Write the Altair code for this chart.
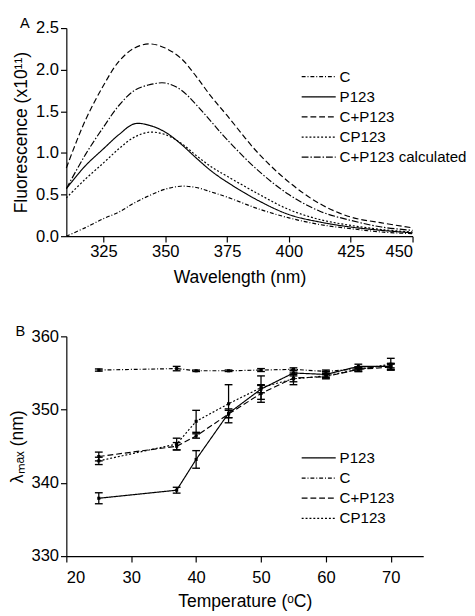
import altair as alt
import pandas as pd

# ---------------- Panel A data (fluorescence spectra, x10^11) ----------------
wavelength = [310, 317.5, 325, 331.25, 337.5, 343.75, 350, 356.25, 362.5, 368.75,
              375, 387.5, 400, 412.5, 425, 437.5, 450]
fl_C = [0.00, 0.10, 0.21, 0.29, 0.40, 0.49, 0.565, 0.60, 0.585, 0.53,
        0.47, 0.33, 0.22, 0.14, 0.09, 0.05, 0.03]
fl_P123 = [0.57, 0.84, 1.05, 1.22, 1.35, 1.33, 1.25, 1.11, 0.94, 0.78,
           0.65, 0.43, 0.26, 0.17, 0.11, 0.07, 0.04]
fl_CplusP123 = [0.82, 1.38, 1.81, 2.10, 2.26, 2.31, 2.26, 2.14, 1.92, 1.67,
                1.45, 1.00, 0.65, 0.39, 0.23, 0.16, 0.10]
fl_CP123 = [0.46, 0.68, 0.88, 1.05, 1.19, 1.25, 1.22, 1.12, 0.97, 0.83,
            0.72, 0.51, 0.32, 0.20, 0.13, 0.08, 0.05]
fl_calc = [0.57, 0.97, 1.31, 1.57, 1.75, 1.82, 1.84, 1.76, 1.58, 1.37,
           1.16, 0.79, 0.50, 0.30, 0.19, 0.11, 0.07]

seriesA = ["C", "P123", "C+P123", "CP123", "C+P123 calculated"]
xticksA = [325, 350, 375, 400, 425, 450]
yticksA = [0.0, 0.5, 1.0, 1.5, 2.0, 2.5]

# ---------------- Panel B data (lambda max vs temperature) ----------------
temps = [25, 37, 40, 45, 50, 55, 60, 65, 70]
lam_P123 = [337.9, 339.0, 343.2, 349.5, 352.8, 355.0, 354.8, 355.9, 355.9]
err_P123 = [0.75, 0.4, 1.2, 0.6, 0.5, 0.4, 0.4, 0.3, 0.4]
lam_C = [355.4, 355.6, 355.3, 355.3, 355.4, 355.5, 355.2, 355.6, 356.0]
err_C = [0.15, 0.3, 0.1, 0.1, 0.2, 0.2, 0.2, 0.2, 0.3]
lam_CplusP123 = [343.6, 345.0, 346.4, 349.4, 352.2, 354.3, 354.5, 355.5, 355.8]
err_CplusP123 = [0.6, 0.5, 0.3, 0.5, 1.2, 0.5, 0.3, 0.3, 0.4]
lam_CP123 = [343.0, 345.3, 348.4, 350.8, 353.0, 354.2, 354.6, 355.5, 356.2]
err_CP123 = [0.5, 0.8, 1.5, 2.6, 1.6, 0.8, 0.3, 0.3, 0.8]

seriesB = ["P123", "C", "C+P123", "CP123"]
xticksB = [20, 30, 40, 50, 60, 70]
yticksB = [330, 340, 350, 360]

# ---------------- tables ----------------
rowsA = []
for name, vals in zip(seriesA, [fl_C, fl_P123, fl_CplusP123, fl_CP123, fl_calc]):
    for w, v in zip(wavelength, vals):
        rowsA.append({"wl": w, "F": v, "series": name})
dfA = pd.DataFrame(rowsA)

rowsB = []
for name, vals, errs in zip(seriesB,
                            [lam_P123, lam_C, lam_CplusP123, lam_CP123],
                            [err_P123, err_C, err_CplusP123, err_CP123]):
    for t, v, e in zip(temps, vals, errs):
        rowsB.append({"T": t, "v": v, "lo": v - e, "hi": v + e, "series": name})
dfB = pd.DataFrame(rowsB)

FONT = "Liberation Sans"
LFS = 17
TFS = 18

dash_map = {
    "C": [4, 2, 1, 2],
    "P123": [1, 0],
    "C+P123": [6, 3],
    "CP123": [2, 2],
    "C+P123 calculated": [7, 2, 1.5, 2],
}


def legend(x, y):
    return alt.Legend(title=None, orient="none", legendX=x, legendY=y,
                      symbolType="stroke", symbolSize=1225, clipHeight=16,
                      symbolStrokeColor="black", symbolStrokeWidth=1.3,
                      labelFont=FONT, labelFontSize=15.5, labelColor="black",
                      labelOffset=3, rowPadding=3.7, padding=0)


# ---------------- Panel A ----------------
chartA = alt.Chart(dfA).mark_line(color="black", strokeWidth=1.2, interpolate="catmull-rom").encode(
    x=alt.X("wl:Q", scale=alt.Scale(domain=[310, 450], nice=False, zero=False),
            axis=alt.Axis(values=xticksA, title="Wavelength (nm)", labelPadding=2, titlePadding=10)),
    y=alt.Y("F:Q", scale=alt.Scale(domain=[0, 2.5], nice=False),
            axis=alt.Axis(values=yticksA, format=".1f", title="Fluorescence (x10¹¹)")),
    strokeDash=alt.StrokeDash("series:N",
                              scale=alt.Scale(domain=seriesA, range=[dash_map[s] for s in seriesA]),
                              legend=legend(241, 42)),
).properties(
    width=356, height=214,
    title=alt.TitleParams("A", anchor="start", frame="bounds", fontSize=15,
                          fontWeight="normal", font=FONT, color="black", dx=7, offset=-12),
)

# ---------------- Panel B ----------------
xB = alt.X("T:Q", scale=alt.Scale(domain=[20, 75], nice=False, zero=False),
           axis=alt.Axis(values=xticksB, title="Temperature (ᵒC)", labelPadding=8, titlePadding=8))


def yB(field):
    return alt.Y(field, scale=alt.Scale(domain=[330, 360], nice=False, zero=False),
                 axis=alt.Axis(values=yticksB, title="λₘₐₓ (nm)"))


baseB = alt.Chart(dfB)
linesB = baseB.mark_line(color="black", strokeWidth=1.2).encode(
    x=xB, y=yB("v:Q"),
    strokeDash=alt.StrokeDash("series:N",
                              scale=alt.Scale(domain=seriesB, range=[dash_map[s] for s in seriesB]),
                              legend=legend(241, 117)),
)
barsB = baseB.mark_rule(color="black", strokeWidth=1.3).encode(x=xB, y=yB("lo:Q"), y2="hi:Q")
capLo = baseB.mark_tick(orient="horizontal", color="black", size=8, thickness=1.4, opacity=1).encode(
    x=xB, y=yB("lo:Q"))
capHi = baseB.mark_tick(orient="horizontal", color="black", size=8, thickness=1.4, opacity=1).encode(
    x=xB, y=yB("hi:Q"))
ptsB = baseB.mark_point(shape="square", filled=True, size=10, color="black", opacity=1).encode(
    x=xB, y=yB("v:Q"))

chartB = alt.layer(linesB, barsB, capLo, capHi, ptsB).properties(
    width=367, height=226,
    title=alt.TitleParams("B", anchor="start", frame="bounds", fontSize=15,
                          fontWeight="normal", font=FONT, color="black", dx=7, offset=-12),
)

chart = alt.vconcat(chartA, chartB, spacing=39).resolve_scale(
    strokeDash="independent"
).resolve_legend(strokeDash="independent").configure(
    padding={"left": 0, "top": 0, "right": 0, "bottom": 0},
    background="white",
).configure_view(stroke=None).configure_axis(
    grid=False, domainColor="black", tickColor="black", labelColor="black",
    titleColor="black", labelFont=FONT, titleFont=FONT, labelFontSize=LFS,
    titleFontSize=TFS, titleFontWeight="normal", tickSize=6, domainWidth=1.2,
    tickWidth=1.2, labelPadding=2,
).configure_axisY(titlePadding=5)

chart.save("out.html", embed_options={"renderer": "svg", "actions": False})
